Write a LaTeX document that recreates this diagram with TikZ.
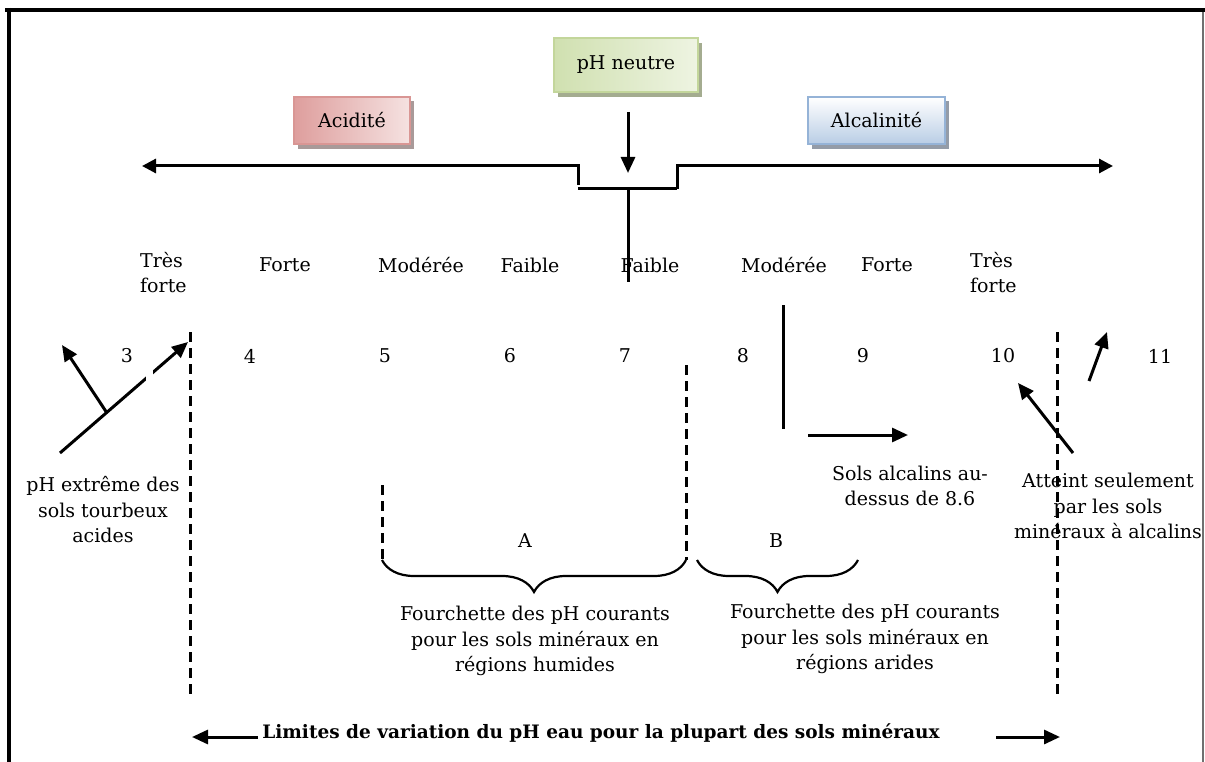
\documentclass[tikz,border=0pt]{standalone}
\usepackage{fontspec}
\setmainfont{DejaVu Serif}
\usetikzlibrary{arrows.meta,decorations.pathreplacing}
\definecolor{gA}{HTML}{D0E0B0}
\definecolor{gB}{HTML}{EEF4E2}
\definecolor{gD}{HTML}{C3D69B}
\definecolor{gS}{HTML}{A4AC90}
\definecolor{rA}{HTML}{DE9E9D}
\definecolor{rB}{HTML}{F5E2E1}
\definecolor{rD}{HTML}{D99694}
\definecolor{rS}{HTML}{A99A99}
\definecolor{bA}{HTML}{FFFFFF}
\definecolor{bB}{HTML}{B9CDE5}
\definecolor{bD}{HTML}{95B3D7}
\definecolor{bS}{HTML}{949CA8}
\definecolor{frameGray}{HTML}{707070}
\begin{document}
\begin{tikzpicture}[x=1pt,y=-1pt,
  txt/.style={font=\fontsize{19}{25.5}\selectfont, inner sep=0pt, align=center},
  btxt/.style={font=\fontsize{18.5}{25}\selectfont\bfseries, inner sep=0pt},
  ln/.style={line width=3pt},
  arr/.style={line width=3pt, -{Triangle[length=16pt,width=14pt]}},
  dsh/.style={line width=3pt, dash pattern=on 10pt off 6pt},
  brc/.style={line width=2.2pt, decorate, decoration={brace, amplitude=32pt}},
  labbox/.style={draw, line width=1.5pt, inner sep=0pt, font=\fontsize{19}{22}\selectfont}
]
\useasboundingbox (0,0) rectangle (1205,762);
% frame
\draw[line width=4pt] (5,10) -- (1205,10);
\draw[line width=4pt] (9,8) -- (9,762);
\draw[frameGray, line width=1.5pt] (1203,12) -- (1203,762);

% header boxes with shadows
\fill[gS] (558,43) rectangle (702,97);
\node[labbox, draw=gD, left color=gA, right color=gB, minimum width=144pt, minimum height=54pt] (neutre) at (626,65) {pH neutre};
\fill[rS] (298,101) rectangle (414,149);
\node[labbox, draw=rD, left color=rA, right color=rB, minimum width=116pt, minimum height=47pt] (acid) at (352,120.5) {Acidité};
\fill[bS] (812,101) rectangle (949,149);
\node[labbox, draw=bD, top color=bA, bottom color=bB, minimum width=137pt, minimum height=47pt] (alca) at (876.5,120.5) {Alcalinité};

% main axis
\coordinate (Ltip) at (142,166);
\coordinate (Lc) at (578,166);
\coordinate (Ld) at (578,185);
\coordinate (Bl) at (578,189);
\coordinate (Br) at (677,189);
\coordinate (Rc) at (677,166);
\coordinate (Rtip) at (1113,166);
\draw[ln, {Triangle[length=14pt,width=14pt]}-] (Ltip) -- (Lc) -- (Ld);
\draw[ln] (Bl) -- (Br);
\draw[ln, -{Triangle[length=14pt,width=14pt]}] (Br) -- (Rc) -- (Rtip);
\coordinate (Ns) at (628,112);
\coordinate (Ne) at (628,173);
\draw[arr] (Ns) -- (Ne);
\coordinate (Vt) at (628,189);
\coordinate (Vb) at (628,282);
\draw[ln] (Vt) -- (Vb);

% classes
\node[txt, anchor=north west, align=left] (c1) at (140,252) {Très\\forte};
\node[txt] (c2) at (285,265) {Forte};
\node[txt] (c3) at (421,265) {Modérée};
\node[txt] (c4) at (530,265) {Faible};
\node[txt] (c5) at (650,265) {Faible};
\node[txt] (c6) at (784,265) {Modérée};
\node[txt] (c7) at (887,265) {Forte};
\node[txt, anchor=north west, align=left] (c8) at (970,252) {Très\\forte};

% numbers
\node[txt] (n3) at (127,356) {3};
\node[txt] (n4) at (250,356) {4};
\node[txt] (n5) at (385,356) {5};
\node[txt] (n6) at (510,356) {6};
\node[txt] (n7) at (625,356) {7};
\node[txt] (n8) at (743,356) {8};
\node[txt] (n9) at (863,356) {9};
\node[txt] (n10) at (1003,356) {10};
\node[txt] (n11) at (1160,356) {11};

% dashed limits
\coordinate (D1t) at (190,332); \coordinate (D1b) at (190,697);
\coordinate (D2t) at (1057,332); \coordinate (D2b) at (1057,697);
\coordinate (D3t) at (382,485); \coordinate (D3b) at (382,560);
\coordinate (D4t) at (686,365); \coordinate (D4b) at (686,560);
\draw[dsh] (D1t) -- (D1b);
\draw[dsh] (D2t) -- (D2b);
\draw[dsh] (D3t) -- (D3b);
\draw[dsh] (D4t) -- (D4b);

% left arrows
\coordinate (Pt) at (60,453);
\coordinate (Pm) at (107,413);
\coordinate (Ph) at (188,342);
\coordinate (Pu) at (62,345);
\draw[arr] (Pt) -- (Ph);
\draw[arr] (Pm) -- (Pu);
\fill[white] (146,369) rectangle (153,383);
\node[txt] (extreme) at (103,510) {pH extrême des\\sols tourbeux\\acides};

% alkaline
\coordinate (Kt) at (783,305); \coordinate (Kb) at (783,429);
\draw[ln] (Kt) -- (Kb);
\coordinate (Ka) at (808,435); \coordinate (Kh) at (908,435);
\draw[arr] (Ka) -- (Kh);
\node[txt] (sols) at (910,486) {Sols alcalins au-\\dessus de 8.6};

\coordinate (Tt) at (1073,453); \coordinate (Th) at (1018,383);
\draw[arr] (Tt) -- (Th);
\coordinate (Et) at (1089,381); \coordinate (Eh) at (1107,332);
\draw[arr] (Et) -- (Eh);
\node[txt] (atteint) at (1108,506) {Atteint seulement\\par les sols\\minéraux à alcalins};

% braces
\coordinate (Al) at (382,560); \coordinate (Ar) at (686,560);
\draw[brc] (Ar) -- (Al);
\coordinate (Bbl) at (697,560); \coordinate (Bbr) at (858,560);
\draw[brc] (Bbr) -- (Bbl);
\node[txt] (A) at (525,541) {A};
\node[txt] (B) at (776,541) {B};
\node[txt] (fa) at (535,641) {Fourchette des pH courants\\pour les sols minéraux en\\régions humides};
\node[txt] (fb) at (865,639) {Fourchette des pH courants\\pour les sols minéraux en\\régions arides};

% bottom
\node[btxt] (lim) at (601,733) {Limites de variation du pH eau pour la plupart des sols minéraux};
\coordinate (La) at (258,737); \coordinate (Lb) at (192,737);
\draw[arr] (La) -- (Lb);
\coordinate (Ra) at (996,737); \coordinate (Rb) at (1060,737);
\draw[arr] (Ra) -- (Rb);
\end{tikzpicture}
\end{document}
